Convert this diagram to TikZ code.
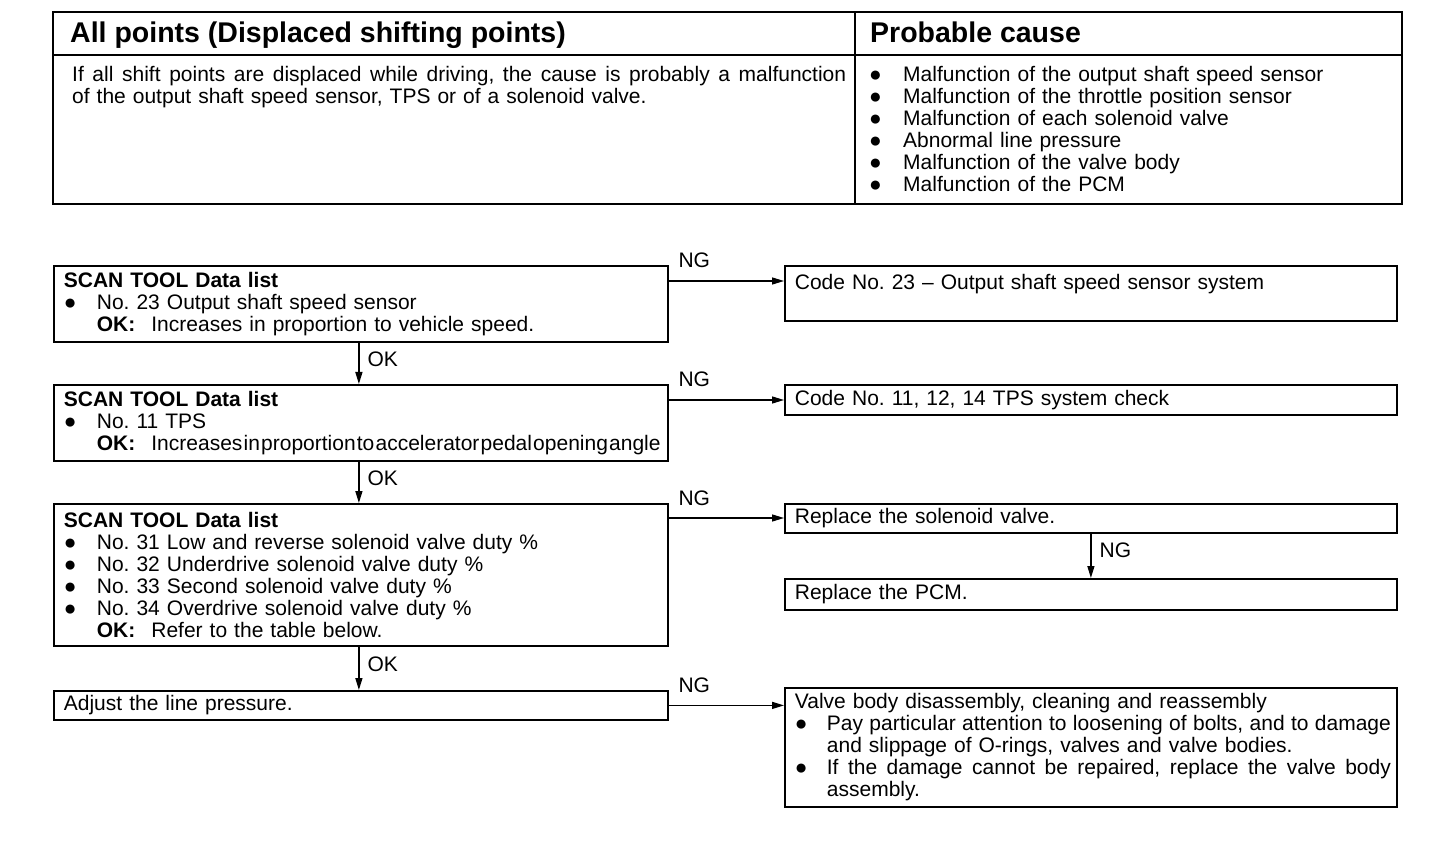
\documentclass[tikz,border=0pt]{standalone}
\usepackage{fontspec}
\setmainfont{Liberation Sans}
\usetikzlibrary{arrows.meta,calc}
\frenchspacing
\newcommand\bul{●}
\newcommand\bitem{\makebox[33pt][l]{\bul}}
\newcommand\okline{\hspace*{33pt}\textbf{OK:}\hspace{16pt}}
\newcommand\justline[2]{{\spaceskip=0.278em plus 2em minus 0.12em\relax\hbox to #1{#2}}}
\begin{document}
\begin{tikzpicture}[x=1pt,y=-1pt,
  every node/.style={font=\fontsize{21}{22}\selectfont},
  box/.style={draw, line width=1.8pt, anchor=north west, inner xsep=10pt, inner ysep=0pt, align=left},
  abox/.style={box, text width=594pt, minimum width=614pt},
  bbox/.style={box, text width=592pt, minimum width=612pt},
  arr/.style={line width=1.4pt, -{Triangle[length=12pt,width=7pt]}},
  ngl/.style={anchor=base west, inner sep=0pt, xshift=9pt, yshift=13pt},
  okl/.style={anchor=west, inner sep=0pt, xshift=8pt, yshift=4pt},
  head/.style={anchor=base west, inner sep=0pt, font=\fontsize{28.5}{30}\selectfont\bfseries},
  plain/.style={anchor=north west, inner sep=0pt, align=left}
]
\useasboundingbox (0,0) rectangle (1456,866);

% ---- table ----
\draw[line width=2.4pt] (53,12) rectangle (1402,204);
\draw[line width=1.2pt] (53,55) -- (1402,55);
\draw[line width=1.2pt] (855,12) -- (855,204);
\node[head] (h1) at (70,43) {All points (Displaced shifting points)};
\node[head] (h2) at (870,43) {Probable cause};
\node[plain, text width=774pt] (desc) at (72,66)
  {\justline{774pt}{If all shift points are displaced while driving, the cause is probably a malfunction}\\
   of the output shaft speed sensor, TPS or of a solenoid valve.};
\node[plain, text width=520pt] (causes) at (869,66)
  {\makebox[34pt][l]{\bul}Malfunction of the output shaft speed sensor\\
   \makebox[34pt][l]{\bul}Malfunction of the throttle position sensor\\
   \makebox[34pt][l]{\bul}Malfunction of each solenoid valve\\
   \makebox[34pt][l]{\bul}Abnormal line pressure\\
   \makebox[34pt][l]{\bul}Malfunction of the valve body\\
   \makebox[34pt][l]{\bul}Malfunction of the PCM};

% ---- flow boxes ----
\node[abox, minimum height=76pt] (A1) at (53,265)
  {\textbf{SCAN TOOL Data list}\\
   \bitem No. 23 Output shaft speed sensor\\
   \okline Increases in proportion to vehicle speed.};
\node[bbox, minimum height=55pt, text depth=23.3pt] (B1) at (784,265)
  {Code No. 23 – Output shaft speed sensor system};

\node[abox, minimum height=76pt] (A2) at (53,384)
  {\textbf{SCAN TOOL Data list}\\
   \bitem No. 11 TPS\\
   \hspace*{33pt}\textbf{OK:}\hspace{16pt}\mbox{\spaceskip=1.2pt\relax Increases in proportion to accelerator pedal opening angle}};
\node[bbox, minimum height=30pt] (B2) at (784,384)
  {Code No. 11, 12, 14 TPS system check};

\node[abox, minimum height=142pt] (A3) at (53,503)
  {\textbf{SCAN TOOL Data list}\\
   \bitem No. 31 Low and reverse solenoid valve duty \%\\
   \bitem No. 32 Underdrive solenoid valve duty \%\\
   \bitem No. 33 Second solenoid valve duty \%\\
   \bitem No. 34 Overdrive solenoid valve duty \%\\
   \okline Refer to the table below.};
\node[bbox, minimum height=29pt] (B3) at (784,503)
  {Replace the solenoid valve.};
\node[bbox, minimum height=31pt] (B4) at (784,578)
  {Replace the PCM.};

\node[abox, minimum height=29pt] (A4) at (53,690)
  {Adjust the line pressure.};
\node[bbox, minimum height=119pt] (B5) at (784,687)
  {Valve body disassembly, cleaning and reassembly\\
   \makebox[32pt][l]{\bul}\justline{564pt}{Pay particular attention to loosening of bolts, and to damage}\\
   \hspace*{32pt}and slippage of O-rings, valves and valve bodies.\\
   \makebox[32pt][l]{\bul}\justline{564pt}{If the damage cannot be repaired, replace the valve body}\\
   \hspace*{32pt}assembly.};

% ---- connectors ----
\coordinate (n1) at ([yshift=-16pt]A1.north east);
\coordinate (n2) at ([yshift=-16pt]A2.north east);
\coordinate (n3) at ([yshift=-15pt]A3.north east);
\draw[arr] (n1) -- node[pos=0, ngl] {NG} (n1 -| B1.west);
\draw[arr] (n2) -- node[pos=0, ngl] {NG} (n2 -| B2.west);
\draw[arr] (n3) -- node[pos=0, ngl] {NG} (n3 -| B3.west);
\draw[arr] (A4.east) -- node[pos=0, ngl] {NG} (A4.east -| B5.west);

\draw[arr] ([xshift=-2pt]A1.south) -- node[okl] {OK} ([xshift=-2pt]A2.north);
\draw[arr] ([xshift=-2pt]A2.south) -- node[okl] {OK} ([xshift=-2pt]A3.north);
\draw[arr] ([xshift=-2pt]A3.south) -- node[okl] {OK} ([xshift=-2pt]A4.north);
\draw[arr] (B3.south) -- node[okl, yshift=2pt] {NG} (B4.north);
\end{tikzpicture}
\end{document}
